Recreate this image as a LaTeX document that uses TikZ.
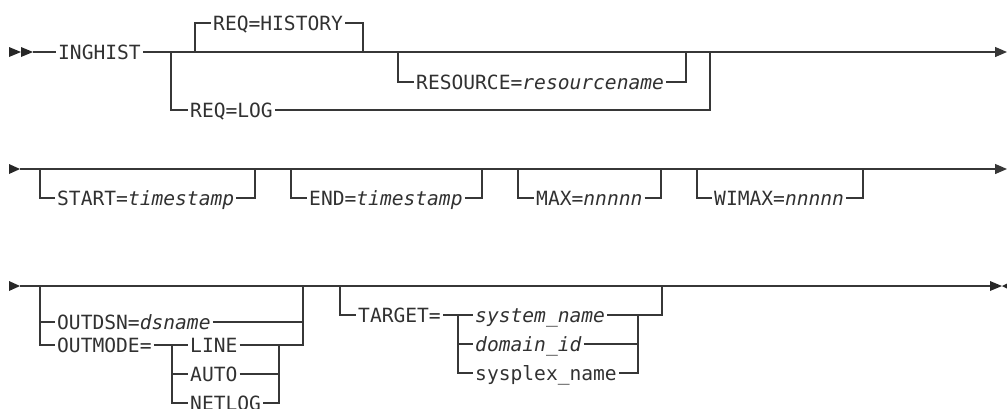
\documentclass[tikz,border=0pt]{standalone}
\usepackage{fontspec}
\usepackage{tikz}
\usetikzlibrary{arrows.meta}
\newfontfamily\rrmono{DejaVu Sans Mono}
\definecolor{railgray}{RGB}{55,55,55}

\begin{document}
\begin{tikzpicture}[x=1pt, y=-1pt,
        kw/.style={font=\rrmono\fontsize{19.6}{22}\selectfont, text=railgray!90!black, anchor=west,
                   inner xsep=2pt, inner ysep=0pt, text height=14pt, text depth=0pt},
        rail/.style={draw=railgray, line width=1.3pt},
        endarr/.style={rail, -{Triangle[length=12pt,width=10pt]}},
        railmark/.style={fill=railgray!70!black}
    ]
    \useasboundingbox (0,0) rectangle (1007,408);

    \fill[railmark] (9,47) -- (21,52) -- (9,57) -- cycle;
    \fill[railmark] (21,47) -- (33,52) -- (21,57) -- cycle;
    \coordinate (a0) at (33,52);
    \coordinate (a1) at (171,52);
    \coordinate (a2) at (195,52);
    \coordinate (a3) at (363,52);
    \coordinate (a4) at (398,52);
    \coordinate (a5) at (686,52);
    \coordinate (a6) at (710,52);
    \coordinate (aend) at (1007,52);
    \node[kw] (inghist) at (56,52) {INGHIST};
    \node[kw] (reqhist) at (211,23) {REQ=HISTORY};
    \node[kw] (resource) at (414,82) {RESOURCE=\textit{resourcename}};
    \node[kw] (reqlog) at (188,110) {REQ=LOG};
    \draw[rail] (a0) -- (inghist);
    \draw[endarr] (inghist) -- (aend);
    \draw[rail] (a2) |- (reqhist) -| (a3);
    \draw[rail] (a4) |- (resource) -| (a5);
    \draw[rail] (a1) |- (reqlog) -| (a6);

    \fill[railmark] (9,164) -- (20,169) -- (9,174) -- cycle;
    \coordinate (b0) at (20,169);
    \coordinate (b1) at (40,169);
    \coordinate (b2) at (255,169);
    \coordinate (b3) at (291,169);
    \coordinate (b4) at (482,169);
    \coordinate (b5) at (518,169);
    \coordinate (b6) at (661,169);
    \coordinate (b7) at (697,169);
    \coordinate (b8) at (863,169);
    \coordinate (bend) at (1007,169);
    \node[kw] (start) at (55,198) {START=\textit{timestamp}};
    \node[kw] (endts) at (307,198) {END=\textit{timestamp}};
    \node[kw] (max) at (534,198) {MAX=\textit{nnnnn}};
    \node[kw] (wimax) at (712,198) {WIMAX=\textit{nnnnn}};
    \draw[endarr] (b0) -- (bend);
    \draw[rail] (b1) |- (start) -| (b2);
    \draw[rail] (b3) |- (endts) -| (b4);
    \draw[rail] (b5) |- (max) -| (b6);
    \draw[rail] (b7) |- (wimax) -| (b8);

    \fill[railmark] (9,281) -- (20,286) -- (9,291) -- cycle;
    \fill[railmark] (990,281) -- (1002,286) -- (990,291) -- cycle;
    \fill[railmark] (1012,281) -- (1002,286) -- (1012,291) -- cycle;
    \coordinate (c0) at (20,286);
    \coordinate (c1) at (40,286);
    \coordinate (c2) at (303,286);
    \coordinate (c3) at (303,345);
    \coordinate (c4) at (172,345);
    \coordinate (c5) at (279,345);
    \coordinate (c6) at (340,286);
    \coordinate (c7) at (458,315);
    \coordinate (c8) at (638,315);
    \coordinate (c9) at (662,286);
    \coordinate (cend) at (990,286);
    \node[kw] (outdsn) at (55,322) {OUTDSN=\textit{dsname}};
    \node[kw] (outmode) at (55,345) {OUTMODE=};
    \node[kw] (line) at (188,345) {LINE};
    \node[kw] (auto) at (188,374) {AUTO};
    \node[kw] (netlog) at (188,403) {NETLOG};
    \node[kw] (target) at (356,315) {TARGET=};
    \node[kw] (sysname) at (473,315) {\textit{system\_name}};
    \node[kw] (domain) at (473,344) {\textit{domain\_id}};
    \node[kw] (sysplex) at (473,373) {sysplex\_name};
    \draw[rail] (c0) -- (cend);
    \draw[rail] (c1) |- (outdsn) -| (c2);
    \draw[rail] (c1) |- (outmode) -- (line);
    \draw[rail] (line) -- (c3) -- (c2);
    \draw[rail] (c4) |- (auto) -| (c5);
    \draw[rail] (c4) |- (netlog) -| (c5);
    \draw[rail] (c6) |- (target) -- (sysname);
    \draw[rail] (c7) |- (domain) -| (c8);
    \draw[rail] (c7) |- (sysplex) -| (c8);
    \draw[rail] (sysname) -| (c9);
\end{tikzpicture}
\end{document}
